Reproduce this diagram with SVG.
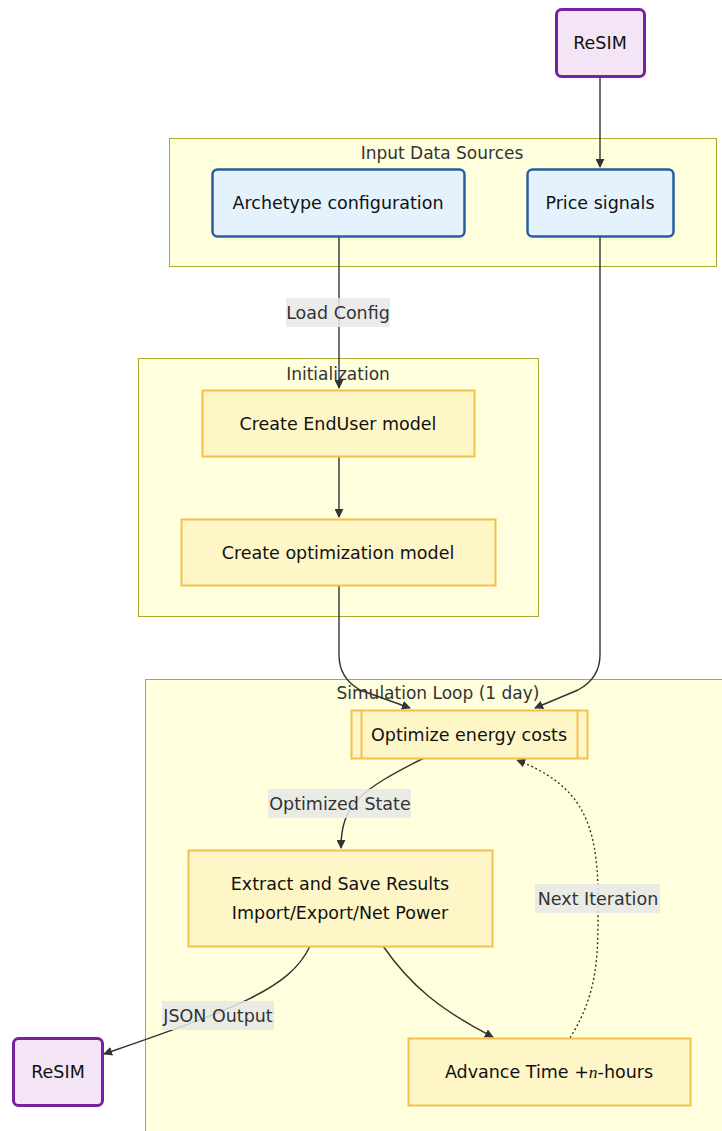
<svg xmlns="http://www.w3.org/2000/svg" width="722" height="1131" viewBox="0 0 722 1131">
<defs>
<style>
text{font-family:"DejaVu Sans","Liberation Sans",sans-serif;}
.cluster{fill:#FFFFDE;stroke:#AAAA33;stroke-width:1;}
.ctitle{font-size:17px;fill:#333;text-anchor:middle;}
.ext{fill:#F3E5F5;stroke:#7B1FA2;stroke-width:3;}
.src{fill:#E3F2FD;stroke:#2A5D9F;stroke-width:2.5;}
.proc{fill:#FFF6C8;stroke:#F4C04A;stroke-width:2;}
.ntext{font-size:17.5px;fill:#111;text-anchor:middle;}
.edge{fill:none;stroke:#333;stroke-width:1.4;}
.dotted{stroke-dasharray:2 2.5;}
.lblbg{fill:#E8E8E8;fill-opacity:0.85;}
.ltext{font-size:17.5px;fill:#333;text-anchor:middle;}
</style>
<marker id="arrow" viewBox="0 0 10 10" refX="9" refY="5" markerWidth="9" markerHeight="9" markerUnits="userSpaceOnUse" orient="auto">
<path d="M0,0 L10,5 L0,10 z" fill="#333"/>
</marker>
</defs>

<g id="cluster-input">
<rect class="cluster" x="169.5" y="138.5" width="547" height="128"/>
<text class="ctitle" x="442" y="159">Input Data Sources</text>
</g>
<g id="cluster-init">
<rect class="cluster" x="138.5" y="358.5" width="400" height="258"/>
<text class="ctitle" x="338" y="380">Initialization</text>
</g>
<g id="cluster-sim">
<rect class="cluster" x="145.5" y="679.5" width="590" height="470"/>
<text class="ctitle" x="438" y="699">Simulation Loop (1 day)</text>
</g>

<g id="connectors">
<path class="edge" d="M600,76 L600,167" marker-end="url(#arrow)"/>
<path class="edge" d="M339,236 L339,388" marker-end="url(#arrow)"/>
<path class="edge" d="M339,456 L339,517" marker-end="url(#arrow)"/>
<path class="edge" d="M339,585 L339,655 Q339,678 360,690 L410,708" marker-end="url(#arrow)"/>
<path class="edge" d="M600,236 L600,655 Q600,678 578,690 L535,708" marker-end="url(#arrow)"/>
<path class="edge" d="M424,758 C360,790 341,805 341,848" marker-end="url(#arrow)"/>
<path class="edge" d="M310,946 C290,990 230,1010 104,1054" marker-end="url(#arrow)"/>
<path class="edge" d="M383,946 C410,985 440,1010 493,1037" marker-end="url(#arrow)"/>
<path class="edge dotted" d="M570,1038 C600,990 598,950 598,898 C598,820 580,785 517,760" marker-end="url(#arrow)"/>
<rect class="lblbg" x="286" y="298" width="104" height="29"/>
<text class="ltext" x="338" y="319">Load Config</text>
<rect class="lblbg" x="268" y="789" width="143" height="29"/>
<text class="ltext" x="340" y="810">Optimized State</text>
<rect class="lblbg" x="535" y="884" width="125" height="29"/>
<text class="ltext" x="598" y="905">Next Iteration</text>
<rect class="lblbg" x="162" y="1001" width="112" height="29"/>
<text class="ltext" x="218" y="1022">JSON Output</text>
</g>

<g id="node-resim-in">
<rect class="ext" x="556.5" y="9.5" width="88" height="67" rx="5"/>
<text class="ntext" x="600" y="49">ReSIM</text>
</g>
<g id="node-archetype">
<rect class="src" x="212.5" y="169.5" width="252" height="67" rx="5"/>
<text class="ntext" x="338" y="209">Archetype configuration</text>
</g>
<g id="node-price">
<rect class="src" x="527.5" y="169.5" width="146" height="67" rx="5"/>
<text class="ntext" x="600" y="209">Price signals</text>
</g>
<g id="node-enduser">
<rect class="proc" x="202.5" y="390.5" width="272" height="66"/>
<text class="ntext" x="338" y="430">Create EndUser model</text>
</g>
<g id="node-optmodel">
<rect class="proc" x="181.5" y="519.5" width="314" height="66"/>
<text class="ntext" x="338" y="559">Create optimization model</text>
</g>
<g id="node-optimize">
<rect class="proc" x="351.5" y="710.5" width="236" height="48"/>
<line x1="361.5" y1="710.5" x2="361.5" y2="758.5" stroke="#F4C04A" stroke-width="2"/>
<line x1="577.5" y1="710.5" x2="577.5" y2="758.5" stroke="#F4C04A" stroke-width="2"/>
<text class="ntext" x="469" y="741">Optimize energy costs</text>
</g>
<g id="node-extract">
<rect class="proc" x="188.5" y="850.5" width="304" height="96"/>
<text class="ntext" x="340" y="890">Extract and Save Results</text>
<text class="ntext" x="340" y="919">Import/Export/Net Power</text>
</g>
<g id="node-resim-out">
<rect class="ext" x="13.5" y="1038.5" width="89" height="67" rx="5"/>
<text class="ntext" x="58" y="1078">ReSIM</text>
</g>
<g id="node-advance">
<rect class="proc" x="408.5" y="1038.5" width="282" height="67"/>
<text class="ntext" x="549" y="1078">Advance Time +<tspan font-family="'Liberation Serif',serif" font-style="italic">n</tspan>-hours</text>
</g>
</svg>
